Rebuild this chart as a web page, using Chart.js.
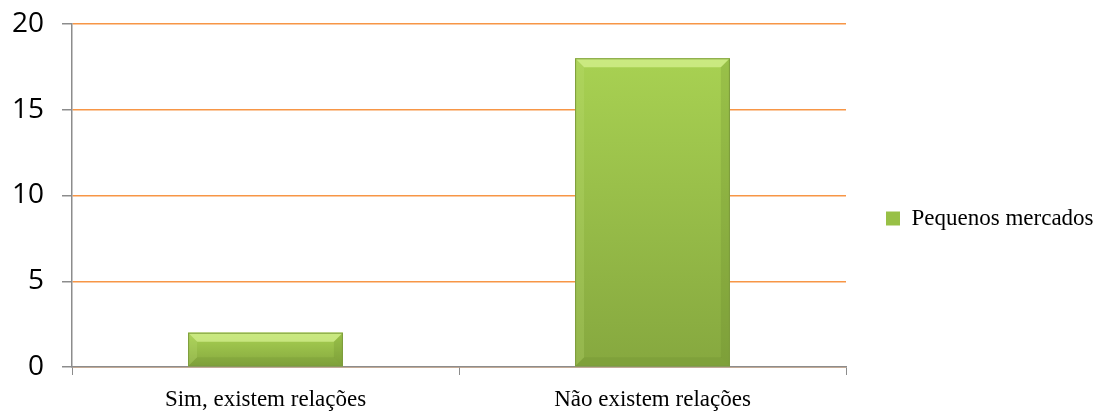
<!DOCTYPE html>
<html lang="pt">
<head>
  <meta charset="UTF-8">
  <title>Pequenos mercados</title>
  <script src="https://cdn.jsdelivr.net/npm/chart.js"></script>
  <style>
    html, body { margin: 0; padding: 0; background: #fff; }
    .chart-box { width: 1105px; height: 413px; position: relative; }
  </style>
</head>
<body>
  <div class="chart-box">
    <canvas id="grafico"></canvas>
  </div>

  <script>
    // dados
    const categorias = ['Sim, existem relações', 'Não existem relações'];
    const pequenosMercados = [2, 18];
    const ticksY = [0, 5, 10, 15, 20];

    // legenda: largura fixa para a área do gráfico terminar em x=846
    const larguraLegenda = {
      id: 'larguraLegenda',
      afterInit(chart) {
        const legend = chart.legend;
        if (!legend) return;
        const fitOriginal = legend.fit;
        legend.fit = function() {
          fitOriginal.call(this);
          this.width = 259;
        };
      }
    };

    // gradiente por barra e efeito de bisel
    const bisel = {
      id: 'bisel',
      afterDatasetsDraw(chart) {
        const ctx = chart.ctx;
        const meta = chart.getDatasetMeta(0);
        meta.data.forEach(function(bar) {
          const l = bar.x - bar.width / 2, r = bar.x + bar.width / 2;
          const t = bar.y, b = bar.base;
          const d = 9;
          ctx.save();
          const g = ctx.createLinearGradient(0, t, 0, b);
          g.addColorStop(0, '#a8d152');
          g.addColorStop(1, '#86a83f');
          ctx.fillStyle = g;
          ctx.fillRect(l, t, r - l, b - t);
          // topo claro
          ctx.fillStyle = 'rgba(225,250,160,0.6)';
          ctx.beginPath();
          ctx.moveTo(l, t); ctx.lineTo(r, t); ctx.lineTo(r - d, t + d); ctx.lineTo(l + d, t + d);
          ctx.closePath(); ctx.fill();
          // esquerda
          ctx.fillStyle = 'rgba(190,225,120,0.25)';
          ctx.beginPath();
          ctx.moveTo(l, t); ctx.lineTo(l + d, t + d); ctx.lineTo(l + d, b - d); ctx.lineTo(l, b);
          ctx.closePath(); ctx.fill();
          // direita
          ctx.fillStyle = 'rgba(90,120,35,0.18)';
          ctx.beginPath();
          ctx.moveTo(r, t); ctx.lineTo(r - d, t + d); ctx.lineTo(r - d, b - d); ctx.lineTo(r, b);
          ctx.closePath(); ctx.fill();
          // base
          ctx.fillStyle = 'rgba(90,120,35,0.15)';
          ctx.beginPath();
          ctx.moveTo(l, b); ctx.lineTo(l + d, b - d); ctx.lineTo(r - d, b - d); ctx.lineTo(r, b);
          ctx.closePath(); ctx.fill();
          // contorno
          ctx.strokeStyle = '#7d9c3c';
          ctx.lineWidth = 1;
          ctx.strokeRect(l + 0.5, t + 0.5, r - l - 1, b - t - 1);
          ctx.restore();
        });
      }
    };

    const ctx = document.getElementById('grafico').getContext('2d');
    new Chart(ctx, {
      type: 'bar',
      data: {
        labels: categorias,
        datasets: [{
          label: 'Pequenos mercados',
          data: pequenosMercados,
          backgroundColor: '#98c046',
          borderColor: '#7d9c3c',
          borderWidth: 0,
          barPercentage: 0.4,
          categoryPercentage: 1.0
        }]
      },
      options: {
        responsive: true,
        maintainAspectRatio: false,
        animation: false,
        layout: {
          padding: { left: 0, right: 0, top: 24, bottom: 0 }
        },
        plugins: {
          tooltip: { enabled: false },
          legend: {
            position: 'right',
            labels: {
              color: '#000',
              font: { family: 'Liberation Serif', size: 23 },
              boxWidth: 14,
              boxHeight: 14,
              padding: 40
            }
          }
        },
        scales: {
          y: {
            min: 0,
            max: 20,
            afterBuildTicks: function(axis) {
              axis.ticks = ticksY.map(function(v) { return { value: v }; });
            },
            afterFit: function(axis) {
              axis.width = 72;
              axis.paddingTop = 0;
              axis.paddingBottom = 0;
            },
            grid: {
              color: '#f79646',
              lineWidth: 1.5,
              tickColor: '#8c8c8c',
              tickLength: 10
            },
            border: { display: true, color: '#8c8c8c', width: 1.5 },
            ticks: {
              color: '#000',
              font: { family: 'Open Sans', size: 28 },
              padding: 18
            }
          },
          x: {
            offset: true,
            afterFit: function(axis) { axis.height = 46; },
            grid: {
              display: true,
              drawOnChartArea: false,
              offset: true,
              color: '#8c8c8c',
              tickLength: 8
            },
            border: { display: true, color: '#8c8c8c', width: 1.5 },
            ticks: {
              color: '#000',
              font: { family: 'Liberation Serif', size: 23 },
              padding: 11
            }
          }
        }
      },
      plugins: [larguraLegenda, bisel]
    });
  </script>
</body>
</html>
